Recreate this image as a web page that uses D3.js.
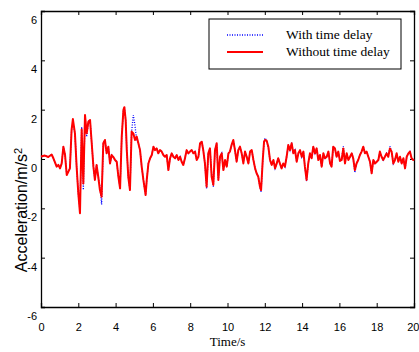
<!DOCTYPE html>
<html>
<head>
<meta charset="utf-8">
<script src="https://cdn.jsdelivr.net/npm/d3@7"></script>
<style>
  body { margin: 0; background: #fff; }
  svg { display: block; }
</style>
</head>
<body>
<div id="chart"></div>
<script>
// time axis (s)
var times = [
  0.00, 0.21, 0.39, 0.57, 0.66, 0.84, 0.93, 1.02, 1.11, 1.20,
  1.29, 1.38, 1.47, 1.55, 1.64, 1.71, 1.82, 1.91, 2.00, 2.09,
  2.18, 2.27, 2.36, 2.45, 2.54, 2.63, 2.72, 2.81, 2.89, 2.98,
  3.07, 3.16, 3.25, 3.34, 3.43, 3.52, 3.61, 3.70, 3.79, 3.88,
  3.97, 4.06, 4.15, 4.24, 4.33, 4.42, 4.47, 4.54, 4.60, 4.68,
  4.77, 4.86, 4.95, 5.04, 5.13, 5.22, 5.31, 5.40, 5.49, 5.61,
  5.67, 5.76, 5.85, 5.94, 6.03, 6.11, 6.20, 6.29, 6.38, 6.47,
  6.56, 6.65, 6.74, 6.83, 6.92, 7.01, 7.10, 7.19, 7.28, 7.37,
  7.46, 7.54, 7.63, 7.72, 7.81, 7.90, 7.99, 8.08, 8.17, 8.26,
  8.35, 8.44, 8.53, 8.62, 8.70, 8.79, 8.88, 8.97, 9.06, 9.15,
  9.24, 9.33, 9.42, 9.51, 9.60, 9.69, 9.78, 9.87, 9.96, 10.05,
  10.13, 10.22, 10.31, 10.40, 10.49, 10.58, 10.67, 10.76, 10.85, 10.94,
  11.03, 11.12, 11.21, 11.30, 11.39, 11.48, 11.56, 11.65, 11.74, 11.80,
  11.89, 11.96, 12.01, 12.10, 12.19, 12.28, 12.37, 12.46, 12.55, 12.64,
  12.72, 12.81, 12.90, 12.99, 13.08, 13.17, 13.26, 13.35, 13.44, 13.53,
  13.62, 13.71, 13.80, 13.89, 13.98, 14.07, 14.15, 14.24, 14.33, 14.42,
  14.51, 14.60, 14.69, 14.78, 14.87, 14.96, 15.05, 15.14, 15.23, 15.32,
  15.41, 15.50, 15.58, 15.67, 15.76, 15.85, 15.94, 16.03, 16.12, 16.21,
  16.30, 16.39, 16.48, 16.57, 16.66, 16.74, 16.83, 16.92, 17.01, 17.10,
  17.19, 17.28, 17.37, 17.46, 17.55, 17.64, 17.73, 17.82, 17.91, 18.00,
  18.09, 18.17, 18.26, 18.35, 18.44, 18.53, 18.62, 18.71, 18.80, 18.89,
  18.98, 19.07, 19.16, 19.25, 19.34, 19.43, 19.52, 19.61, 19.70, 19.78,
  19.87, 19.96, 20.00
];

// acceleration without time delay (red solid)
var withoutDelay = [
  0.10, 0.14, 0.08, 0.18, 0.04, -0.31, -0.24, -0.38, -0.18, 0.50,
  0.16, -0.65, -0.51, -0.38, 1.18, 1.62, 1.04, -0.31, -1.39, -2.20,
  1.20, -0.99, 1.78, 1.04, 1.51, 1.58, 0.64, -0.31, -0.85, -0.24,
  -0.72, -1.26, -1.53, 0.64, 0.77, 0.23, 0.50, -0.18, 0.16, 0.08,
  -0.04, -0.11, -0.72, -1.19, 0.91, 1.99, 2.10, 1.58, 0.36, -0.72,
  -1.26, 1.11, 1.04, 0.77, 0.91, 0.64, 0.36, -0.31, -0.85, -1.46,
  -0.85, -0.18, 0.03, 0.16, 0.50, 0.36, 0.43, 0.23, 0.36, 0.30,
  0.16, 0.09, 0.16, -0.45, 0.03, 0.23, 0.09, 0.03, 0.16, -0.04,
  0.09, -0.11, -0.24, 0.03, 0.36, 0.23, 0.30, 0.36, 0.23, 0.30,
  -0.04, 0.09, 0.64, 0.70, 0.36, -0.18, -1.12, 0.23, 0.43, -0.72,
  -1.05, 0.36, 0.64, -0.85, 0.09, 0.23, -0.45, -0.04, -0.31, 0.23,
  0.30, 0.57, 0.77, 0.36, -0.11, 0.36, 0.50, 0.23, -0.18, 0.30,
  0.09, -0.18, 0.30, 0.36, -0.04, -0.38, -0.58, -0.72, -1.12, -1.26,
  -0.04, 0.70, 0.77, 0.74, 0.50, -0.04, -0.24, -0.04, -0.38, -0.18,
  0.03, -0.18, -0.38, -0.18, -0.31, 0.09, 0.57, 0.36, 0.64, 0.23,
  0.36, -0.11, 0.23, 0.36, 0.09, 0.30, -0.31, -0.85, -0.18, 0.23,
  0.03, 0.50, 0.23, 0.43, -0.04, 0.16, -0.31, 0.23, 0.03, 0.09,
  0.30, -0.18, -0.31, 0.50, 0.43, 0.09, 0.30, -0.08, -0.04, 0.43,
  -0.18, 0.23, -0.04, 0.09, 0.23, 0.03, -0.45, -0.18, -0.04, 0.16,
  0.30, 0.50, 0.23, 0.30, 0.09, -0.11, -0.58, -0.04, -0.18, -0.11,
  -0.04, 0.30, 0.09, -0.04, 0.09, 0.23, 0.09, 0.43, 0.30, -0.18,
  -0.04, 0.23, -0.11, 0.09, -0.18, 0.03, -0.38, 0.09, 0.23, 0.30,
  0.03, -0.04, -0.01
];

// acceleration with time delay (blue dotted)
var withDelay = [
  0.10, 0.14, 0.08, 0.18, 0.04, -0.31, -0.24, -0.38, -0.18, 0.50,
  0.16, -0.65, -0.51, -0.38, 1.18, 1.45, 1.04, -0.31, -1.39, -2.10,
  1.30, -1.25, 1.60, 0.90, 1.51, 1.58, 0.64, -0.31, -0.85, -0.24,
  -0.72, -1.10, -1.85, 0.64, 0.77, 0.23, 0.50, -0.18, 0.16, 0.08,
  -0.04, -0.11, -0.72, -1.19, 0.91, 1.99, 2.10, 1.58, 0.36, -0.72,
  -1.26, 1.11, 1.78, 1.35, 0.75, 0.64, 0.36, -0.31, -0.85, -1.46,
  -0.85, -0.18, 0.03, 0.16, 0.50, 0.36, 0.43, 0.23, 0.36, 0.30,
  0.16, 0.09, 0.16, -0.45, 0.03, 0.23, 0.09, 0.03, 0.16, -0.04,
  0.09, -0.11, -0.24, 0.03, 0.36, 0.23, 0.30, 0.36, 0.23, 0.30,
  -0.04, 0.09, 0.64, 0.70, 0.36, -0.18, -1.20, 0.23, 0.43, -0.60,
  -1.12, 0.36, 0.64, -0.85, 0.09, 0.23, -0.45, -0.04, -0.31, 0.23,
  0.30, 0.57, 0.77, 0.36, -0.11, 0.36, 0.50, 0.23, -0.10, 0.30,
  0.09, -0.18, 0.30, 0.36, -0.04, -0.38, -0.58, -0.72, -1.12, -1.35,
  -0.04, 0.70, 0.85, 0.74, 0.45, -0.04, -0.24, -0.04, -0.38, -0.18,
  0.03, -0.18, -0.38, -0.18, -0.31, 0.09, 0.57, 0.36, 0.66, 0.23,
  0.36, -0.11, 0.23, 0.36, 0.09, 0.30, -0.31, -0.90, -0.18, 0.23,
  0.03, 0.50, 0.23, 0.43, -0.04, 0.16, -0.31, 0.23, 0.03, 0.09,
  0.30, -0.18, -0.31, 0.50, 0.43, 0.09, 0.30, -0.08, -0.04, 0.52,
  -0.18, 0.23, -0.04, 0.09, 0.23, 0.03, -0.55, -0.18, -0.04, 0.16,
  0.30, 0.50, 0.23, 0.30, 0.09, -0.11, -0.58, -0.04, -0.18, -0.11,
  -0.04, 0.30, 0.09, -0.04, 0.09, 0.23, 0.09, 0.52, 0.30, -0.18,
  -0.04, 0.23, -0.11, 0.09, -0.18, 0.03, -0.38, 0.09, 0.23, 0.30,
  0.03, -0.04, -0.01
];

var xTicks = [0, 2, 4, 6, 8, 10, 12, 14, 16, 18, 20];
var yTicks = [-6, -4, -2, 0, 2, 4, 6];
var legendLabels = ["With time delay", "Without time delay"];

var svgWidth = 419;
var svgHeight = 352;

var margin = { top: 11, right: 5, bottom: 45, left: 41 };
var width = svgWidth - margin.left - margin.right;
var height = svgHeight - margin.top - margin.bottom;

var svg = d3.select("#chart")
  .append("svg")
  .attr("width", svgWidth)
  .attr("height", svgHeight);

// y axis title goes first so the tick labels stay on top of it
var yTitle = svg.append("text")
  .attr("transform", "translate(26.5, 210) rotate(-90)")
  .attr("text-anchor", "middle")
  .attr("font-family", "Arial, 'Liberation Sans', sans-serif")
  .attr("font-size", "16px");
yTitle.append("tspan").text("Acceleration/m/s");
yTitle.append("tspan").attr("dy", "-0.45em").attr("font-size", "11px").text("2");

var chartGroup = svg.append("g")
  .attr("transform", `translate(${margin.left}, ${margin.top})`);

// scales
var xScale = d3.scaleLinear().domain([0, 20]).range([0, width]);
var yScale = d3.scaleLinear().domain([-6, 6]).range([height, 0]);

var tickLen = 4;
var plainNum = d => String(d);  // plain hyphen minus like the original

// axes with inward ticks, MATLAB style box
var bottomAxis = d3.axisBottom(xScale).tickValues(xTicks).tickSize(-tickLen).tickPadding(16).tickFormat(plainNum);
var topAxis = d3.axisTop(xScale).tickValues(xTicks).tickSize(-tickLen).tickFormat("");
var leftAxis = d3.axisLeft(yScale).tickValues(yTicks).tickSize(-tickLen).tickPadding(4).tickFormat(plainNum);
var rightAxis = d3.axisRight(yScale).tickValues(yTicks).tickSize(-tickLen).tickFormat("");

var gx = chartGroup.append("g").attr("transform", `translate(0, ${height})`).call(bottomAxis);
chartGroup.append("g").call(topAxis);
var gy = chartGroup.append("g").call(leftAxis);
chartGroup.append("g").attr("transform", `translate(${width}, 0)`).call(rightAxis);

chartGroup.selectAll(".domain").attr("stroke", "#000").attr("stroke-width", 1.3);
chartGroup.selectAll(".tick line").attr("stroke", "#000").attr("stroke-width", 1);
chartGroup.selectAll(".tick text")
  .attr("fill", "#000")
  .attr("font-family", "Arial, 'Liberation Sans', sans-serif")
  .attr("font-size", "11px");

// y labels sit a bit below their ticks in the original
gy.selectAll(".tick text").attr("dy", "1.15em");
// keep the last x label inside the picture
gx.selectAll(".tick text").filter(d => d === 20).attr("text-anchor", "end").attr("x", 5);

// series lines
var line = d3.line()
  .x((d, i) => xScale(times[i]))
  .y(d => yScale(d));

chartGroup.append("path")
  .datum(withDelay)
  .attr("fill", "none")
  .attr("stroke", "#0000ff")
  .attr("stroke-width", 1.3)
  .attr("stroke-dasharray", "1,1.5")
  .attr("d", line);

chartGroup.append("path")
  .datum(withoutDelay)
  .attr("fill", "none")
  .attr("stroke", "#ff0000")
  .attr("stroke-width", 2)
  .attr("stroke-linejoin", "round")
  .attr("d", line);

// legend
var legend = svg.append("g").attr("transform", "translate(209, 19)");
legend.append("rect")
  .attr("width", 192)
  .attr("height", 50)
  .attr("fill", "#fff")
  .attr("stroke", "#000")
  .attr("stroke-width", 1);

var legendStyles = [
  { color: "#0000ff", width: 1.3, dash: "1,1.5" },
  { color: "#ff0000", width: 2, dash: null }
];

legendLabels.forEach(function(label, i) {
  var yy = 16 + i * 17;
  legend.append("line")
    .attr("x1", 18).attr("x2", 54)
    .attr("y1", yy).attr("y2", yy)
    .attr("stroke", legendStyles[i].color)
    .attr("stroke-width", legendStyles[i].width)
    .attr("stroke-dasharray", legendStyles[i].dash);
  legend.append("text")
    .attr("x", 77)
    .attr("y", yy + 4)
    .attr("font-family", "'Times New Roman', 'Liberation Serif', serif")
    .attr("font-size", "13.5px")
    .attr("fill", "#000")
    .text(label);
});

// x axis title
svg.append("text")
  .attr("x", margin.left + width / 2)
  .attr("y", 346)
  .attr("text-anchor", "middle")
  .attr("font-family", "'Times New Roman', 'Liberation Serif', serif")
  .attr("font-size", "13px")
  .text("Time/s");
</script>
</body>
</html>
